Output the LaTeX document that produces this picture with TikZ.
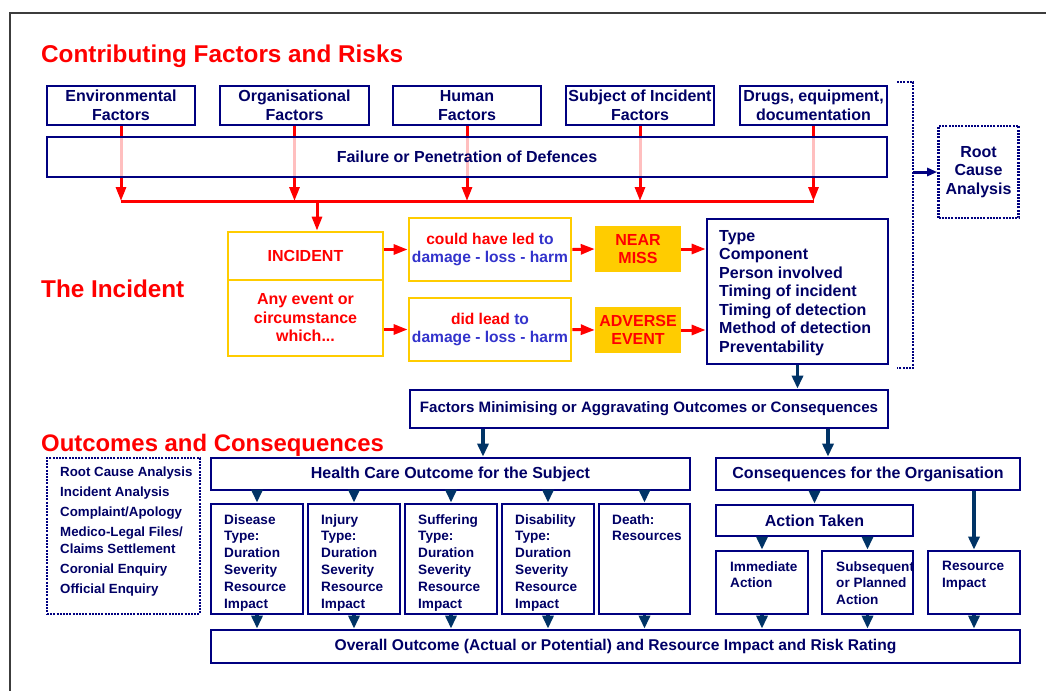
\documentclass[tikz,border=0pt]{standalone}
\usepackage{fontspec}
\setmainfont{Liberation Sans}
\usetikzlibrary{arrows.meta,calc}

\definecolor{navyline}{RGB}{0,0,128}
\definecolor{navytext}{RGB}{0,0,102}
\definecolor{arrownavy}{RGB}{0,51,102}
\definecolor{alarm}{RGB}{255,0,0}
\definecolor{gold}{RGB}{255,204,0}
\definecolor{harmblue}{RGB}{51,51,204}
\definecolor{framegray}{RGB}{60,60,60}

\newcommand\bigtxt{\fontsize{16}{18.5}\selectfont\bfseries}
\newcommand\smalltxt{\fontsize{13.6}{16.8}\selectfont\bfseries}

\begin{document}
\begin{tikzpicture}[x=1pt,y=-1pt,
  navybox/.style={draw=navyline, line width=2.8pt, fill=white, text=navytext,
    font=\bigtxt, align=center, inner sep=0pt},
  yellowbox/.style={draw=gold, line width=2.8pt, fill=white, text=alarm,
    font=\bigtxt, align=center, inner sep=0pt},
  goldbox/.style={fill=gold, text=alarm, font=\bigtxt, align=center, inner sep=0pt},
  dotline/.style={draw=navyline, line width=2.6pt, dash pattern=on 2pt off 1.2pt},
  dotbox/.style={dotline, fill=white, text=navytext, inner sep=0pt},
  sectiontitle/.style={text=alarm, font=\fontsize{24.3}{28}\selectfont\bfseries,
    anchor=base west, inner sep=0pt},
  redarrow/.style={draw=alarm, line width=3pt, -{Triangle[length=14pt,width=10pt]}},
  navyarrow/.style={draw=arrownavy, line width=3.5pt, -{Triangle[length=13pt,width=11pt]}},
  thinarrow/.style={draw=navyline, line width=3pt, -{Triangle[length=10pt,width=8pt]}},
  listtxt/.style={text=navytext, font=\smalltxt, align=left, anchor=north west, inner sep=0pt},
  typetxt/.style={text=navytext, font=\bigtxt, align=left, anchor=north west, inner sep=0pt},
]
% canvas and frame
\fill[white] (0,0) rectangle (1046,691);
\useasboundingbox (0,0) rectangle (1046,691);
\draw[framegray, line width=1.5pt] (1046,13) -- (10,13) -- (10,691);

% section headings
\node[sectiontitle] (t1) at (41,62) {Contributing Factors and Risks};
\node[sectiontitle] (t2) at (41,297) {The Incident};
\node[sectiontitle, font=\fontsize{23.9}{28}\selectfont\bfseries] (t3) at (41,451) {Outcomes and Consequences};

% contributing factors
\node[navybox, minimum width=148pt, minimum height=39pt] (env) at (121,105.5) {Environmental\\Factors};
\node[navybox, minimum width=149pt, minimum height=39pt] (org) at (294.5,105.5) {Organisational\\Factors};
\node[navybox, minimum width=148pt, minimum height=39pt] (human) at (467,105.5) {Human\\Factors};
\node[navybox, minimum width=148pt, minimum height=39pt] (subj) at (640,105.5) {Subject of Incident\\Factors};
\node[navybox, minimum width=147pt, minimum height=39pt] (drugs) at (813.5,105.5) {Drugs, equipment,\\documentation};

% red collector
\coordinate (bus) at (0,201);
\coordinate (drop) at (317,201);
\foreach \n in {env,org,human,subj,drugs}
  \draw[redarrow] (\n.south) -- (\n.south |- bus);
\draw[alarm, line width=3pt] (env.south |- bus) -- (drugs.south |- bus);

\node[navybox, fill opacity=0.75, text opacity=1, minimum width=840pt, minimum height=40pt] (defences) at (467,157) {Failure or Penetration of Defences};

% root cause bracket
\node[dotbox, font=\bigtxt, align=center, minimum width=80pt, minimum height=92pt] (root) at (978.5,172) {Root\\Cause\\Analysis};
\coordinate (brT) at (897,82);
\coordinate (brTR) at (913,82);
\coordinate (brBR) at (913,368);
\coordinate (brB) at (897,368);
\draw[dotline] (brT) -- (brTR) -- (brBR) -- (brB);
\draw[thinarrow] (brTR |- root.west) -- (root.west);

% the incident
\node[yellowbox, minimum width=155pt, minimum height=48pt] (incident) at (305.5,256) {INCIDENT};
\node[yellowbox, minimum width=155pt, minimum height=76pt] (anyevent) at (305.5,318) {Any event or\\circumstance\\which...};
\draw[redarrow] (drop) -- (drop |- incident.north);

\node[yellowbox, font=\fontsize{15.6}{18.5}\selectfont\bfseries, minimum width=162pt, minimum height=63pt] (could) at (490,249.5)
  {could have led {\color{harmblue}to}\\{\color{harmblue}damage - loss - harm}};
\node[yellowbox, font=\fontsize{15.6}{18.5}\selectfont\bfseries, minimum width=162pt, minimum height=63pt] (did) at (490,329.5)
  {did lead {\color{harmblue}to}\\{\color{harmblue}damage - loss - harm}};
\node[goldbox, minimum width=86pt, minimum height=46pt] (near) at (638,249) {NEAR\\MISS};
\node[goldbox, minimum width=86pt, minimum height=46pt] (adverse) at (638,330) {ADVERSE\\EVENT};
\node[navybox, minimum width=181pt, minimum height=145pt] (type) at (797.5,291.5) {};
\node[typetxt] (typelist) at (719,230)
  {Type\\Component\\Person involved\\Timing of incident\\Timing of detection\\Method of detection\\Preventability};

\draw[redarrow] (could.west -| incident.east) -- (could.west);
\draw[redarrow] (did.west -| anyevent.east) -- (did.west);
\draw[redarrow] (could.east) -- (near.west);
\draw[redarrow] (did.east) -- (adverse.west);
\draw[redarrow] (near.east) -- (near.east -| type.west);
\draw[redarrow] (adverse.east) -- (adverse.east -| type.west);

% outcomes and consequences
\node[navybox, font=\fontsize{15.1}{18}\selectfont\bfseries, minimum width=478pt, minimum height=38pt] (factors) at (649,409)
  {Factors Minimising or Aggravating Outcomes or Consequences};
\draw[navyarrow] (type.south) -- (type.south |- factors.north);

\node[dotbox, minimum width=153pt, minimum height=156pt] (options) at (123.5,536) {};
\node[listtxt, font=\fontsize{13.3}{20}\selectfont\bfseries] (optionlist) at (60,467)
  {Root Cause Analysis\\Incident Analysis\\Complaint/Apology\\Medico-Legal Files/\\[-3pt]Claims Settlement\\Coronial Enquiry\\Official Enquiry};

\node[navybox, minimum width=479pt, minimum height=32pt] (health) at (450.5,474) {Health Care Outcome for the Subject};
\node[navybox, minimum width=304pt, minimum height=32pt] (conseq) at (868,474) {Consequences for the Organisation};
\coordinate (fh) at (483,0);
\coordinate (fc) at (828,0);
\draw[navyarrow] (fh |- factors.south) -- (fh |- health.north);
\draw[navyarrow] (fc |- factors.south) -- (fc |- conseq.north);

\node[navybox, minimum width=92pt, minimum height=110pt] (disease) at (257,559) {};
\node[navybox, minimum width=92pt, minimum height=110pt] (injury) at (354,559) {};
\node[navybox, minimum width=92pt, minimum height=110pt] (suffering) at (451,559) {};
\node[navybox, minimum width=92pt, minimum height=110pt] (disability) at (548,559) {};
\node[navybox, minimum width=91pt, minimum height=110pt] (death) at (644.5,559) {};
\node[listtxt] (diseaseT) at (224,514) {Disease\\Type:\\Duration\\Severity\\Resource\\Impact};
\node[listtxt] (injuryT) at (321,514) {Injury\\Type:\\Duration\\Severity\\Resource\\Impact};
\node[listtxt] (sufferingT) at (418,514) {Suffering\\Type:\\Duration\\Severity\\Resource\\Impact};
\node[listtxt] (disabilityT) at (515,514) {Disability\\Type:\\Duration\\Severity\\Resource\\Impact};
\node[listtxt] (deathT) at (612,514) {Death:\\Resources};

\node[navybox, minimum width=197pt, minimum height=31pt] (action) at (814.5,520.5) {Action Taken};
\node[navybox, minimum width=92pt, minimum height=63pt] (immediate) at (762,582.5) {};
\node[navybox, minimum width=91pt, minimum height=63pt] (subsequent) at (867.5,582.5) {};
\node[navybox, minimum width=92pt, minimum height=63pt] (resource) at (974,582.5) {};
\node[listtxt] (immediateT) at (730,561) {Immediate\\Action};
\node[listtxt] (subsequentT) at (836,561) {Subsequent\\or Planned\\Action};
\node[listtxt] (resourceT) at (942,561) {Resource\\Impact};

\node[navybox, font=\fontsize{15.6}{18}\selectfont\bfseries, minimum width=809pt, minimum height=33pt] (overall) at (615.5,646.5)
  {Overall Outcome (Actual or Potential) and Resource Impact and Risk Rating};

\foreach \n in {disease,injury,suffering,disability,death} {
  \draw[navyarrow] (\n.north |- health.south) -- (\n.north);
  \draw[navyarrow] (\n.south) -- (\n.south |- overall.north);
}
\draw[navyarrow] (action.north |- conseq.south) -- (action.north);
\draw[navyarrow] (resource.north |- conseq.south) -- (resource.north);
\foreach \n in {immediate,subsequent} {
  \draw[navyarrow] (\n.north |- action.south) -- (\n.north);
}
\foreach \n in {immediate,subsequent,resource} {
  \draw[navyarrow] (\n.south) -- (\n.south |- overall.north);
}
\end{tikzpicture}
\end{document}
